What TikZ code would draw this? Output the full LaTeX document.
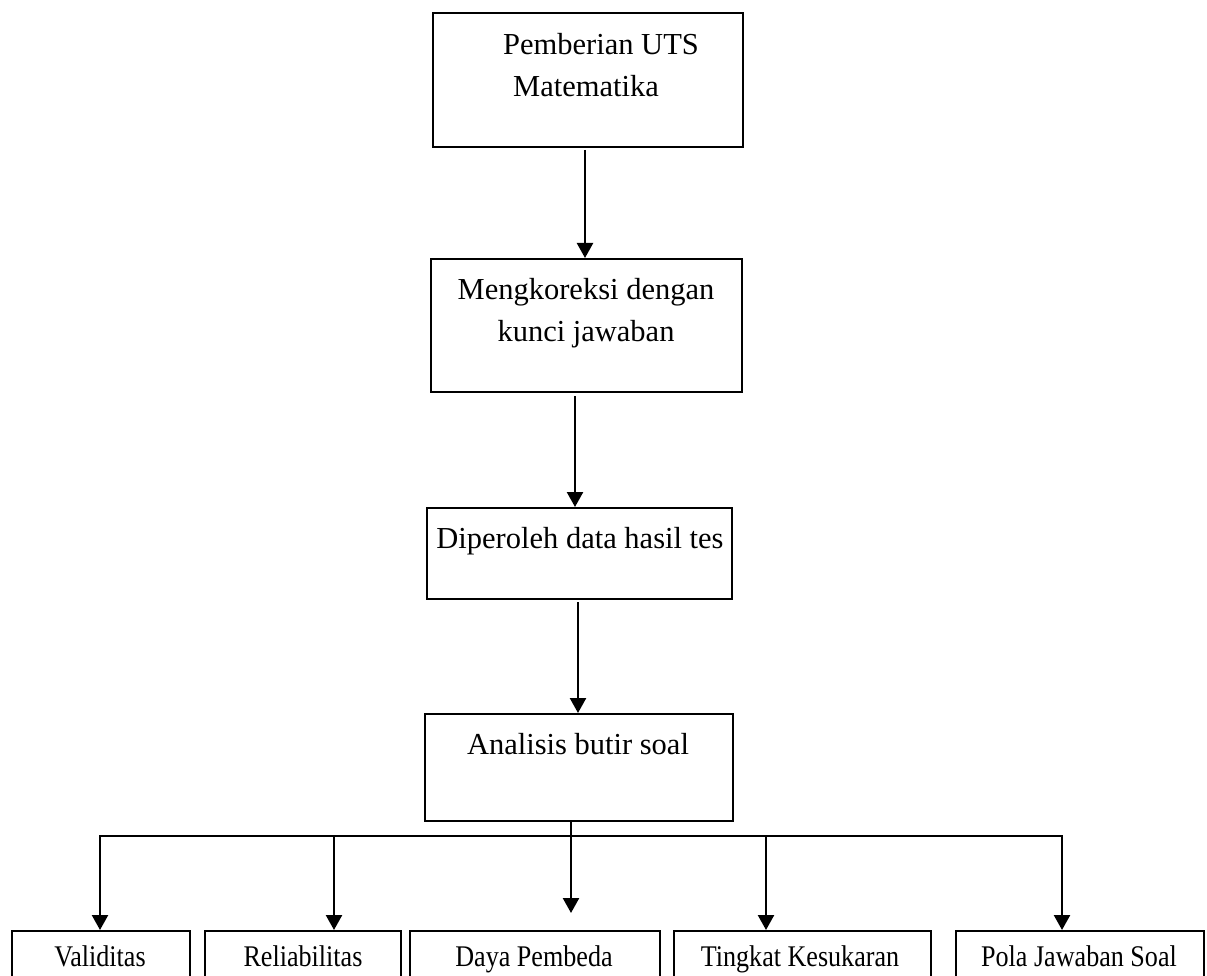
\documentclass[tikz,border=0pt]{standalone}
\usepackage{fontspec}
\setmainfont{Liberation Serif}
\newfontfamily\narrowserif{Liberation Serif}[FakeStretch=0.87]
\usetikzlibrary{arrows.meta}
\begin{document}
\begin{tikzpicture}[x=1pt,y=-1pt,
  box/.style={draw,line width=2.2pt,inner sep=0pt,anchor=north west},
  txt/.style={anchor=base,inner sep=0pt,font=\fontsize{30.5}{42}\selectfont},
  btxt/.style={anchor=base,inner sep=0pt,font=\narrowserif\fontsize{30}{42}\selectfont},
  conn/.style={line width=2.4pt},
  arr/.style={line width=2.4pt,-{Triangle[length=15pt,width=16pt]}}]
\clip (0,0) rectangle (1207,976);
\fill[white] (0,0) rectangle (1207,976);
% main boxes
\node[box,minimum width=310pt,minimum height=134pt] (b1) at (432,12) {};
\node[box,minimum width=311pt,minimum height=133pt] (b2) at (430,258) {};
\node[box,minimum width=305pt,minimum height=91pt] (b3) at (426,507) {};
\node[box,minimum width=308pt,minimum height=107pt] (b4) at (424,713) {};
\node[txt] (t1a) at (601,55) {Pemberian UTS};
\node[txt] (t1b) at (586,97) {Matematika};
\node[txt] (t2a) at (586,299) {Mengkoreksi dengan};
\node[txt] (t2b) at (586,341) {kunci jawaban};
\node[txt] (t3) at (580,548) {Diperoleh data hasil tes};
\node[txt] (t4) at (578,754) {Analisis butir soal};
% bottom boxes
\node[box,minimum width=178pt,minimum height=70pt] (c1) at (11,930) {};
\node[box,minimum width=196pt,minimum height=70pt] (c2) at (204,930) {};
\node[box,minimum width=250pt,minimum height=70pt] (c3) at (409,930) {};
\node[box,minimum width=257pt,minimum height=70pt] (c4) at (673,930) {};
\node[box,minimum width=248pt,minimum height=70pt] (c5) at (955,930) {};
\node[btxt] (d1) at (100,966) {Validitas};
\node[btxt] (d2) at (303,966) {Reliabilitas};
\node[btxt] (d3) at (534,966) {Daya Pembeda};
\node[btxt] (d4) at (800,966) {Tingkat Kesukaran};
\node[btxt] (d5) at (1079,966) {Pola Jawaban Soal};
% connectors
\coordinate (a1s) at (585,150); \coordinate (a1e) at (585,258);
\coordinate (a2s) at (575,396); \coordinate (a2e) at (575,507);
\coordinate (a3s) at (578,602); \coordinate (a3e) at (578,713);
\draw[arr] (a1s) -- (a1e);
\draw[arr] (a2s) -- (a2e);
\draw[arr] (a3s) -- (a3e);
\coordinate (hL) at (100,836); \coordinate (hR) at (1062,836);
\coordinate (m0) at (571,820); \coordinate (m1) at (571,913);
\coordinate (h2) at (334,836); \coordinate (h4) at (766,836);
\draw[conn,line cap=rect] (hL) -- (hR);
\draw[arr] (m0) -- (m1);
\draw[arr] (hL) -- (hL |- c1.north);
\draw[arr] (h2) -- (h2 |- c2.north);
\draw[arr] (h4) -- (h4 |- c4.north);
\draw[arr] (hR) -- (hR |- c5.north);
\end{tikzpicture}
\end{document}
